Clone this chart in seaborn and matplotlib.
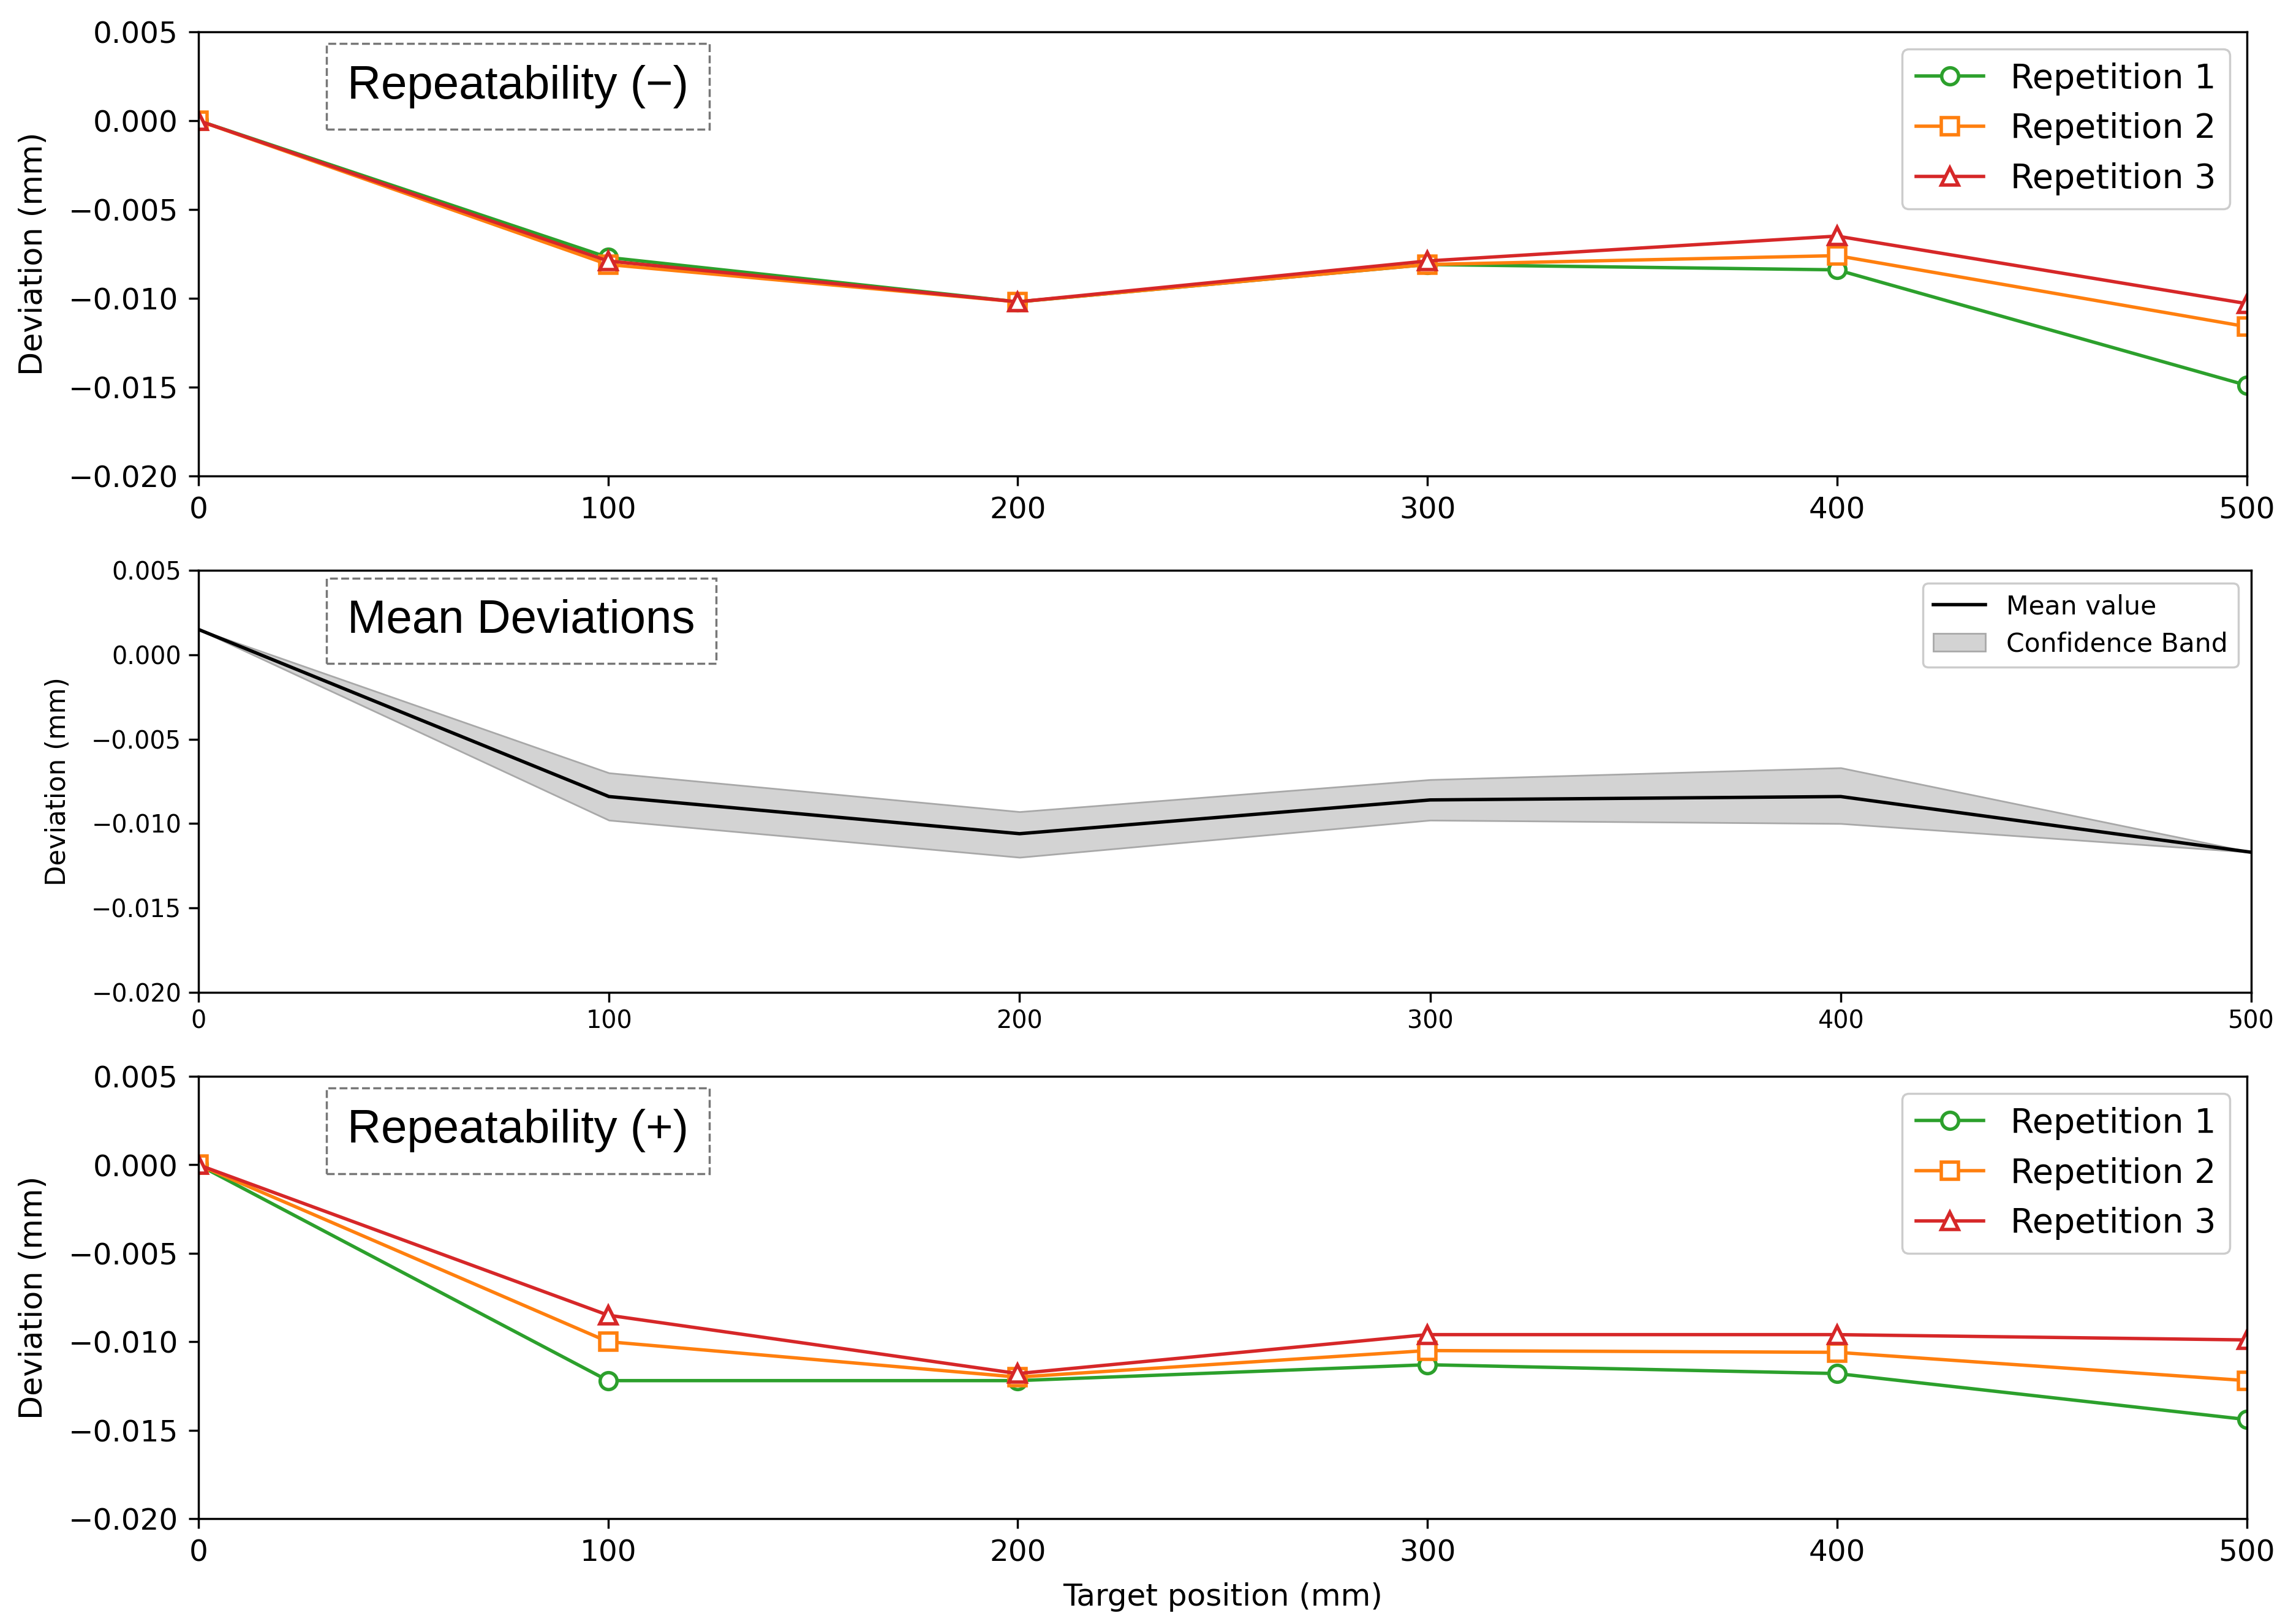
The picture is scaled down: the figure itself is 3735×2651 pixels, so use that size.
import numpy as np
import pandas as pd
import matplotlib
matplotlib.use("Agg")
import matplotlib.pyplot as plt
import seaborn as sns

# ---------------- data ----------------
positions = [0, 100, 200, 300, 400, 500]

neg_rep1 = [0.0, -0.0077, -0.0102, -0.0081, -0.0084, -0.0149]
neg_rep2 = [0.0, -0.0081, -0.0102, -0.0081, -0.0076, -0.0116]
neg_rep3 = [0.0, -0.0079, -0.0102, -0.0079, -0.0065, -0.0103]

mean_vals = [0.0015, -0.0084, -0.0106, -0.0086, -0.0084, -0.0117]
band_upper = [0.0015, -0.0070, -0.0093, -0.0074, -0.0067, -0.0117]
band_lower = [0.0015, -0.0098, -0.0120, -0.0098, -0.0100, -0.0117]

pos_rep1 = [0.0, -0.0122, -0.0122, -0.0113, -0.0118, -0.0144]
pos_rep2 = [0.0, -0.0100, -0.0120, -0.0105, -0.0106, -0.0122]
pos_rep3 = [0.0, -0.0085, -0.0118, -0.0096, -0.0096, -0.0099]

rep_labels = ["Repetition 1", "Repetition 2", "Repetition 3"]
rep_colors = ["#2ca02c", "#ff7f0e", "#d62728"]
rep_markers = ["o", "s", "^"]

yticks = [0.005, 0.000, -0.005, -0.010, -0.015, -0.020]
xticks = [0, 100, 200, 300, 400, 500]

box_font = ["Liberation Sans", "DejaVu Sans"]

fig = plt.figure(figsize=(15, 10.647), dpi=249)

ax_top = fig.add_axes([0.0867, 0.7069, 0.982 - 0.0867, 0.9804 - 0.7069])
ax_mid = fig.add_axes([0.0867, 0.3889, 0.984 - 0.0867, 0.6488 - 0.3889])
ax_bot = fig.add_axes([0.0867, 0.0649, 0.982 - 0.0867, 0.3372 - 0.0649])


def fmt_ticks(ax):
    ax.set_xlim(0, 500)
    ax.set_ylim(-0.020, 0.005)
    ax.set_xticks(xticks)
    ax.set_yticks(yticks)
    ax.set_yticklabels([f"{v:.3f}".replace("-", "\u2212") for v in yticks])
    for s in ax.spines.values():
        s.set_linewidth(1.0)


def rep_panel(ax, series, title):
    for vals, lab, col, mk in zip(series, rep_labels, rep_colors, rep_markers):
        df = pd.DataFrame({"pos": positions, "dev": vals})
        sns.lineplot(data=df, x="pos", y="dev", ax=ax, color=col, marker=mk,
                     markersize=8, markerfacecolor="white", markeredgecolor=col,
                     markeredgewidth=1.6, linewidth=1.6, label=lab, errorbar=None)
    fmt_ticks(ax)
    ax.tick_params(labelsize=14, length=4.5, width=1, pad=5)
    ax.set_ylabel("Deviation (mm)", fontsize=14.7, labelpad=9)
    ax.set_xlabel("")
    ax.legend(loc="upper right", fontsize=16, handlelength=2.0,
              framealpha=1, edgecolor="#cccccc", borderpad=0.4,
              labelspacing=0.5)
    ax.text(0.0727, 0.877, title, transform=ax.transAxes, fontsize=22,
            family=box_font, va="center", ha="left",
            bbox=dict(boxstyle="square,pad=0.45", fc="white", ec="#777777",
                      ls="--", lw=1.0))


rep_panel(ax_top, [neg_rep1, neg_rep2, neg_rep3], "Repeatability (\u2212)")
rep_panel(ax_bot, [pos_rep1, pos_rep2, pos_rep3], "Repeatability (+)")
ax_bot.set_xlabel("Target position (mm)", fontsize=14.5, labelpad=7)

# middle panel
dfm = pd.DataFrame({"pos": positions, "mean": mean_vals})
ax_mid.fill_between(positions, band_lower, band_upper, color="#d3d3d3",
                    edgecolor="#a8a8a8", linewidth=0.8, label="Confidence Band")
sns.lineplot(data=dfm, x="pos", y="mean", ax=ax_mid, color="black",
             linewidth=1.6, label="Mean value", errorbar=None)
fmt_ticks(ax_mid)
ax_mid.tick_params(labelsize=11.5, length=4.5, width=1)
ax_mid.set_ylabel("Deviation (mm)", fontsize=12.6, labelpad=9.5)
ax_mid.set_xlabel("")
h, l = ax_mid.get_legend_handles_labels()
order = [l.index("Mean value"), l.index("Confidence Band")]
ax_mid.legend([h[i] for i in order], [l[i] for i in order], loc="upper right",
              fontsize=12.3, framealpha=1, edgecolor="#cccccc",
              handlelength=2.0, borderpad=0.4, labelspacing=0.45)
ax_mid.text(0.0727, 0.88, "Mean Deviations", transform=ax_mid.transAxes,
            fontsize=22, family=box_font, va="center", ha="left",
            bbox=dict(boxstyle="square,pad=0.45", fc="white", ec="#777777",
                      ls="--", lw=1.0))

fig.savefig("out.png", dpi=249)
